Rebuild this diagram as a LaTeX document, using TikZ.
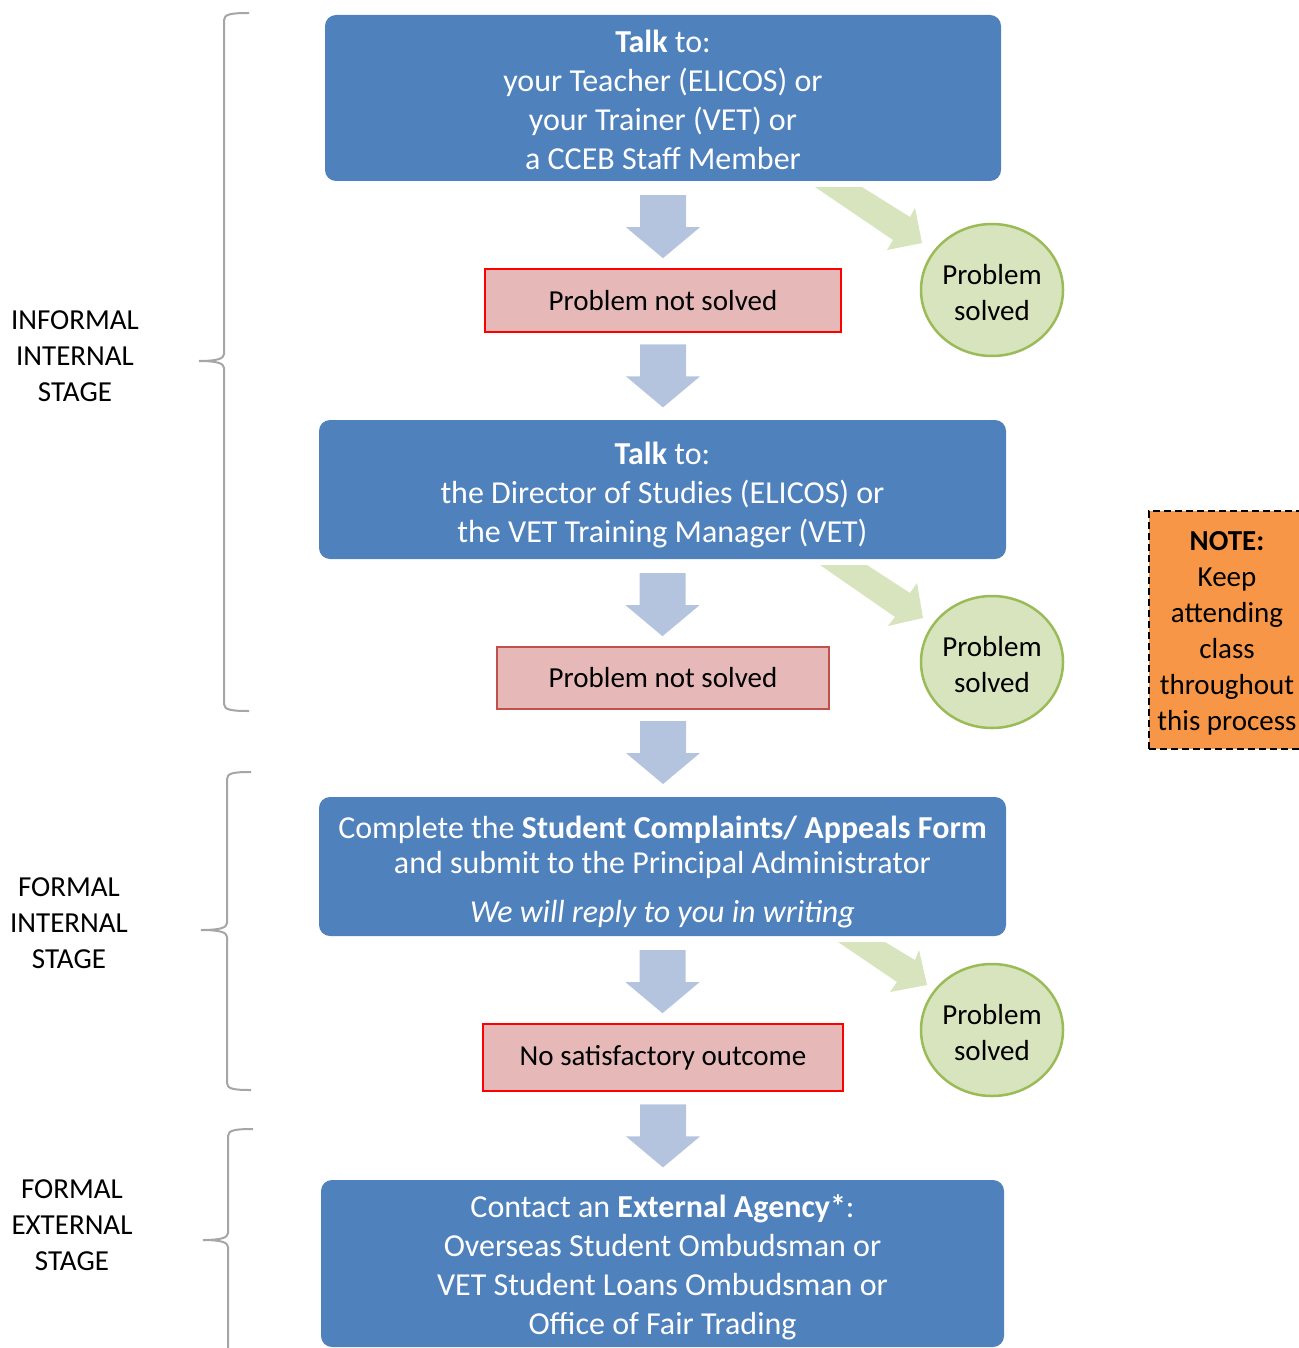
\documentclass[tikz,border=0pt]{standalone}
\usepackage{fontspec}
\setmainfont{Carlito}
\usetikzlibrary{shapes.geometric,calc}
\definecolor{boxblue}{HTML}{4F81BD}
\definecolor{arrblue}{RGB}{180,196,223}
\definecolor{pinkfill}{HTML}{E6B9B8}
\definecolor{darkred}{HTML}{C0504D}
\definecolor{greenfill}{HTML}{D7E4BD}
\definecolor{greenline}{HTML}{9BBB59}
\definecolor{notefill}{HTML}{F79646}
\definecolor{bracegray}{HTML}{A6A6A6}
\newcommand{\toppad}[1]{\rule{0pt}{#1pt}}
\tikzset{
  bluebox/.style={rectangle, rounded corners=11pt, fill=boxblue, text=white, align=center, inner sep=0pt, font=\fontsize{32}{39}\selectfont},
  redbox/.style={rectangle, fill=pinkfill, draw=red, line width=2.8pt, align=center, inner sep=0pt, font=\fontsize{29}{36}\selectfont},
  solvedcircle/.style={ellipse, fill=greenfill, draw=greenline, line width=2.5pt, minimum width=142pt, minimum height=132pt, inner sep=0pt, align=center, font=\fontsize{29}{36}\selectfont},
  stagelabel/.style={align=center, inner sep=0pt, font=\fontsize{29}{36}\selectfont},
  notebox/.style={rectangle, fill=notefill, draw=black, dash pattern=on 7pt off 4pt, line width=1.6pt, align=center, inner sep=0pt, font=\fontsize{29}{36}\selectfont},
  greenarrow/.style={fill=greenfill, draw=none},
  bracestyle/.style={draw=bracegray, line width=2pt},
  dnarr/.pic={\fill[arrblue] (-23,0) -- (23,0) -- (23,32) -- (37,32) -- (0,63) -- (-37,32) -- (-23,32) -- cycle;}
}
\begin{document}
\begin{tikzpicture}[x=1pt,y=-1pt]
\useasboundingbox (0,0) rectangle (1298,1348);

% main boxes
\node[bluebox, minimum width=676pt, minimum height=166pt] (b1) at (663,98)
  {\toppad{27}\textbf{Talk} to:\\your Teacher (ELICOS) or\\your Trainer (VET) or\\a CCEB Staff Member};
\node[redbox, minimum width=356pt, minimum height=63pt] (r1) at (663,300.5) {Problem not solved};
\node[bluebox, minimum width=687pt, minimum height=139pt] (b2) at (662.5,489.5)
  {\toppad{33}\textbf{Talk} to:\\the Director of Studies (ELICOS) or\\the VET Training Manager (VET)};
\node[redbox, draw=darkred, line width=2pt, minimum width=332pt, minimum height=62pt] (r2) at (663,678) {Problem not solved};
\node[bluebox, minimum width=687pt, minimum height=139pt, font=\fontsize{32}{35}\selectfont] (b3) at (662.5,866.5)
  {\toppad{33}Complete the \textbf{Student Complaints/ Appeals Form}\\and submit to the Principal Administrator\\[14pt]\textit{We will reply to you in writing}};
\node[redbox, minimum width=360pt, minimum height=67pt] (r3) at (663,1057.5) {No satisfactory outcome};
\node[bluebox, minimum width=683pt, minimum height=167pt] (b4) at (662.5,1263.5)
  {\toppad{31}Contact an \textbf{External Agency*}:\\Overseas Student Ombudsman or\\VET Student Loans Ombudsman or\\Office of Fair Trading};

% down arrows
\pic at ($(b1.south)+(0,14)$) {dnarr};
\pic at ($(r1.south)+(0,11)$) {dnarr};
\pic at ($(b2.south)+(0,14)$) {dnarr};
\pic at ($(r2.south)+(0,11)$) {dnarr};
\pic at ($(b3.south)+(0,14)$) {dnarr};
\pic at ($(r3.south)+(0,12)$) {dnarr};

% solved circles
\node[solvedcircle] (c1) at (992,290) {\toppad{25}Problem\\solved};
\node[solvedcircle] (c2) at (992,662) {\toppad{25}Problem\\solved};
\node[solvedcircle] (c3) at (992,1030) {\toppad{25}Problem\\solved};

% green arrows
\fill[greenarrow] (815,187) -- (862,187) -- (910,217) -- (915,208) -- (922,243) -- (887,250) -- (893,240) -- cycle;
\fill[greenarrow] (820,565) -- (867,565) -- (910,593) -- (917,583) -- (923,618) -- (888,626) -- (895,617) -- cycle;
\fill[greenarrow] (838,942) -- (885,942) -- (915,960) -- (919,950) -- (927,985) -- (890,992) -- (897,982) -- cycle;

% note
\node[notebox, minimum width=156pt, minimum height=238pt] (note) at (1227,630)
  {\toppad{25}\textbf{NOTE:}\\Keep\\attending\\class\\throughout\\this process};

% stage labels
\node[stagelabel] (l1) at (75,356) {INFORMAL\\INTERNAL\\STAGE};
\node[stagelabel] (l2) at (69,923) {FORMAL\\INTERNAL\\STAGE};
\node[stagelabel] (l3) at (72,1225) {FORMAL\\EXTERNAL\\STAGE};

% braces
\draw[bracestyle] (249,13) .. controls (232,13) and (224,14) .. (224,20) -- (224,354)
  .. controls (224,359) and (216,361) .. (199,361) .. controls (216,361) and (224,363) .. (224,368)
  -- (224,704) .. controls (224,710) and (232,711) .. (249,711);
\draw[bracestyle] (251,772) .. controls (234,772) and (227,773) .. (227,779) -- (227,923)
  .. controls (227,928) and (219,930) .. (201,930) .. controls (219,930) and (227,932) .. (227,937)
  -- (227,1083) .. controls (227,1089) and (234,1090) .. (251,1090);
\draw[bracestyle] (253,1129) .. controls (236,1129) and (228,1130) .. (228,1136) -- (228,1233)
  .. controls (228,1238) and (220,1240) .. (203,1240) .. controls (220,1240) and (228,1242) .. (228,1247)
  -- (228,1360);
\end{tikzpicture}
\end{document}
